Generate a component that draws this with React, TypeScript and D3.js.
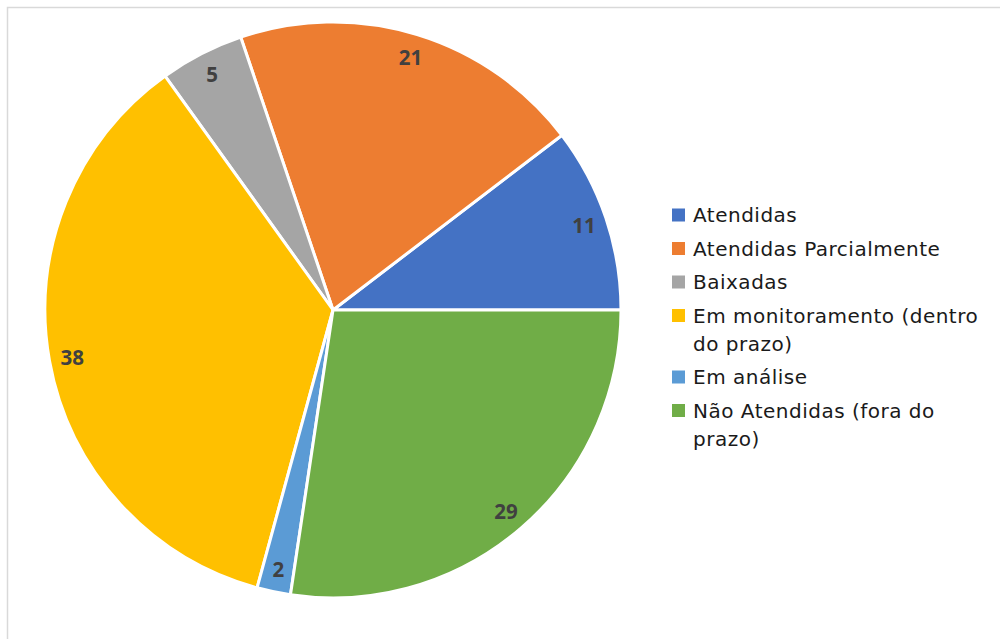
import React from "react";
import * as d3 from "d3";

const categories = [
  "Atendidas",
  "Atendidas Parcialmente",
  "Baixadas",
  "Em monitoramento (dentro do prazo)",
  "Em análise",
  "Não Atendidas (fora do prazo)",
];
const values = [11, 21, 5, 38, 2, 29];
const legendLines = [
  ["Atendidas"],
  ["Atendidas Parcialmente"],
  ["Baixadas"],
  ["Em monitoramento (dentro", "do prazo)"],
  ["Em análise"],
  ["Não Atendidas (fora do", "prazo)"],
];
const colors = ["#4472C4", "#ED7D31", "#A5A5A5", "#FFC000", "#5B9BD5", "#70AD47"];

const W = 1000;
const H = 639;
const cx = 333;
const cy = 310;
const R = 288;
const labelR = 265;

export default function App() {
  const data = categories.map((c, i) => ({ name: c, value: values[i], color: colors[i], lines: legendLines[i] }));
  const pie = d3
    .pie<any>()
    .value((d: any) => d.value)
    .sort(null)
    .startAngle(Math.PI / 2)
    .endAngle(Math.PI / 2 - 2 * Math.PI);
  const arcs = pie(data);
  const arc = d3.arc<any>().innerRadius(0).outerRadius(R);
  const labelArc = d3.arc<any>().innerRadius(labelR).outerRadius(labelR);

  const font = "Open Sans, sans-serif";
  const legendFont = "DejaVu Sans, sans-serif";
  const legendX = 672;
  const legendY0 = 215;
  const lineH = 28;
  const gap = 33.5;
  let y = legendY0;
  const legendItems = data.map((d) => {
    const item = { ...d, y };
    y += gap + (d.lines.length - 1) * lineH;
    return item;
  });

  return (
    <svg width={W} height={H} style={{ position: "absolute", left: 0, top: 0 }}>
      <rect x={0} y={0} width={W} height={H} fill="#fff" />
      <rect x={7.5} y={7.5} width={W + 10} height={H + 10} fill="none" stroke="#d9d9d9" strokeWidth={1.5} />
      <g transform={`translate(${cx},${cy})`}>
        {arcs.map((a, i) => (
          <path key={i} d={arc(a) as string} fill={a.data.color} stroke="#fff" strokeWidth={3} strokeLinejoin="round" />
        ))}
        {arcs.map((a, i) => {
          const [lx, ly] = labelArc.centroid(a);
          return (
            <text
              key={"l" + i}
              x={lx}
              y={ly}
              textAnchor="middle"
              dominantBaseline="central"
              fontFamily={font}
              fontWeight="bold"
              fontSize={20.5}
              fill="#404040"
            >
              {a.data.value}
            </text>
          );
        })}
      </g>
      <g>
        {legendItems.map((d, i) => (
          <g key={i}>
            <rect x={legendX} y={d.y - 6.5} width={13} height={13} fill={d.color} />
            {d.lines.map((ln: string, j: number) => (
              <text
                key={j}
                x={693}
                y={d.y + j * lineH}
                dominantBaseline="central"
                fontFamily={legendFont}
                fontSize={20}
                letterSpacing={0.5}
                fill="#1a1a1a"
              >
                {ln}
              </text>
            ))}
          </g>
        ))}
      </g>
    </svg>
  );
}
